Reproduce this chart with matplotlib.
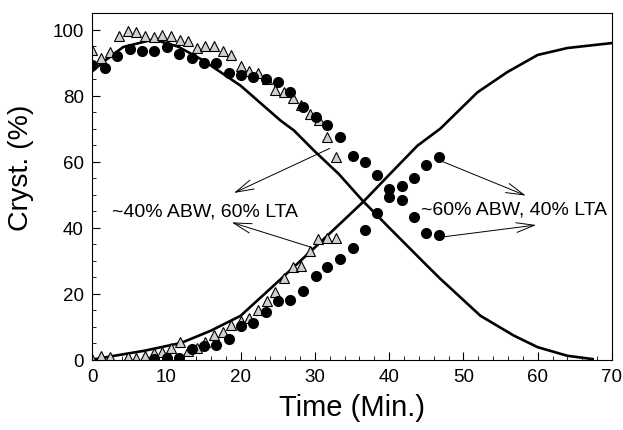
import matplotlib
matplotlib.use('Agg')
import matplotlib.pyplot as plt
from matplotlib.ticker import MultipleLocator

plt.rcParams['font.family'] = ['Liberation Sans', 'DejaVu Sans']

# ~40% ABW / 60% LTA batch (triangles)
tri_x = [0, 1.2, 2.4, 3.6, 4.8, 5.9, 7.1, 8.3, 9.4, 10.6, 11.8, 12.9, 14.1, 15.2,
         16.4, 17.6, 18.7, 20.0, 21.1, 22.3, 23.5, 24.6, 25.8, 27.0, 28.1, 29.3,
         30.5, 31.7, 32.8]
tri_lta = [93.9, 91.3, 93.3, 98.0, 99.5, 99.1, 97.9, 97.6, 98.3, 98.1, 96.8, 96.4,
           94.4, 95.1, 95.1, 93.5, 92.4, 89.1, 87.5, 86.9, 85.1, 81.8, 81.0, 79.4,
           77.0, 74.4, 72.7, 67.5, 61.4]
tri_abw_x = [0, 1.2, 2.4, 4.8, 5.9, 7.1, 8.3, 9.4, 10.6, 11.8, 12.9, 14.1, 15.2,
             16.4, 17.6, 18.7, 20.0, 21.1, 22.3, 23.5, 24.6, 25.8, 27.0, 28.1,
             29.3, 30.4, 31.6, 32.8]
tri_abw = [0.2, 1.2, 0.9, 0.9, 0.5, 1.2, 2.1, 2.4, 3.6, 5.3, 2.6, 3.5, 5.5, 7.4,
           8.3, 10.6, 11.6, 12.6, 15.1, 17.8, 20.5, 24.8, 28.1, 28.5, 33.0, 36.6,
           36.8, 36.8]

# ~60% ABW / 40% LTA batch (circles)
circ_x = [0, 1.7, 3.4, 5.1, 6.7, 8.4, 10.1, 11.7, 13.4, 15.1, 16.7, 18.4, 20.1,
          21.7, 23.4, 25.1, 26.7, 28.4, 30.1, 31.7, 33.4, 35.1, 36.7, 38.4, 40.0,
          41.7, 43.4, 45.0, 46.7]
circ_lta = [89.4, 88.2, 91.9, 94.2, 93.5, 93.5, 94.7, 92.6, 91.5, 89.8, 89.8, 86.9,
            86.2, 85.5, 85.1, 84.2, 81.2, 76.4, 73.5, 71.1, 67.4, 61.7, 60.0, 55.8,
            51.7, 48.5, 43.3, 38.5, 37.8]
circ_abw_x = [8.4, 10.1, 11.7, 13.4, 15.1, 16.7, 18.4, 20.1, 21.7, 23.4, 25.1, 26.7,
              28.4, 30.1, 31.7, 33.4, 35.1, 36.7, 38.4, 40.0, 41.7, 43.4, 45.0, 46.7]
circ_abw = [0.2, 0.5, 0.5, 3.2, 4.2, 4.4, 6.2, 10.3, 11.1, 14.4, 17.7, 18.1, 20.8,
            25.3, 28.1, 30.6, 33.8, 39.4, 44.5, 49.2, 52.7, 55.1, 59.1, 61.5]

# model curves
fit_lta_x = [0, 1.75, 4.2, 8.3, 11.6, 15, 20, 25.4, 27.2, 29.9, 33.2, 36.5, 40,
             45.1, 46.9, 52.3, 56.8, 60, 64, 67.4]
fit_lta = [87.3, 90.6, 94.7, 97.0, 94.8, 90.6, 83.0, 72.4, 69.4, 63.3, 56.3, 48.0,
           40.0, 28.5, 24.5, 13.3, 7.3, 3.8, 1.2, 0.2]
fit_abw_x = [0, 3, 7, 12, 16, 20, 25.4, 30, 36.5, 40, 43.8, 46.9, 51.9, 55.9, 60,
             64, 70]
fit_abw = [0, 1.2, 2.7, 5.1, 8.8, 13.3, 24.4, 34.0, 47.8, 56.0, 64.8, 70.0, 81.0,
           87.1, 92.3, 94.4, 95.9]

fig = plt.figure(figsize=(6.23, 4.31), dpi=100)
ax = fig.add_axes([0.1477, 0.163, 0.8346, 0.8045])

ax.plot(fit_lta_x, fit_lta, color='black', lw=1.9)
ax.plot(fit_abw_x, fit_abw, color='black', lw=1.9)

tri_style = dict(marker='^', ls='none', ms=7, mfc='#d0d0d0', mec='black', mew=0.8)
circ_style = dict(marker='o', ls='none', ms=7, mfc='black', mec='black')
ax.plot(tri_x, tri_lta, **tri_style)
ax.plot(tri_abw_x, tri_abw, **tri_style)
ax.plot(circ_x, circ_lta, **circ_style)
ax.plot(circ_abw_x, circ_abw, **circ_style)

arrow = dict(arrowstyle='->, head_length=1.3, head_width=0.35', lw=0.7, color='black',
             shrinkA=0, shrinkB=0)
ax.text(15.2, 45.1, '~40% ABW, 60% LTA', ha='center', va='center', fontsize=14)
ax.annotate('', xy=(19.1, 50.5), xytext=(32.0, 64.0), arrowprops=arrow)
ax.annotate('', xy=(18.8, 41.6), xytext=(29.6, 34.0), arrowprops=arrow)
ax.text(56.8, 45.5, '~60% ABW, 40% LTA', ha='center', va='center', fontsize=14)
ax.annotate('', xy=(58.4, 49.7), xytext=(47.2, 60.0), arrowprops=arrow)
ax.annotate('', xy=(59.8, 40.8), xytext=(46.9, 37.1), arrowprops=arrow)

ax.set_xlim(0, 70)
ax.set_ylim(0, 105)
ax.set_xticks([0, 10, 20, 30, 40, 50, 60, 70])
ax.set_yticks([0, 20, 40, 60, 80, 100])
ax.xaxis.set_minor_locator(MultipleLocator(2))
ax.yaxis.set_minor_locator(MultipleLocator(5))
ax.tick_params(which='both', direction='in', top=False, right=False, labelsize=13.5)
ax.tick_params(which='major', length=6, width=0.8, pad=6)
ax.tick_params(which='minor', length=3, width=0.6)
for s in ax.spines.values():
    s.set_linewidth(0.8)

ax.set_xlabel('Time (Min.)', fontsize=21, labelpad=6)
ax.set_ylabel('Cryst. (%)', fontsize=20.5)
ax.yaxis.set_label_coords(-0.112, 0.556)

fig.savefig('out.png', dpi=100)
